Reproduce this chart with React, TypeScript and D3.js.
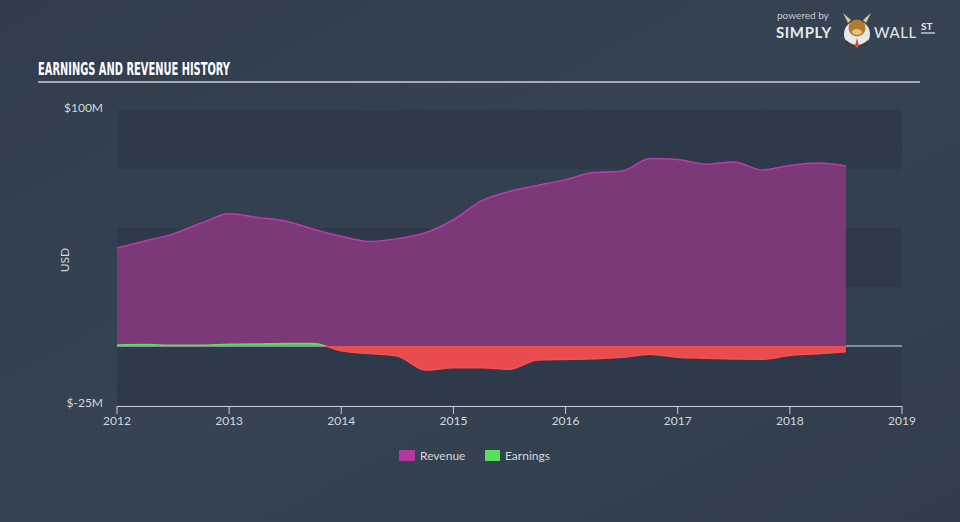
import React, { useEffect } from "react";
import * as d3 from "d3";

const periods = [
  2012.0, 2012.25, 2012.5, 2012.75, 2013.0, 2013.25, 2013.5, 2013.75, 2014.0,
  2014.25, 2014.5, 2014.75, 2015.0, 2015.25, 2015.5, 2015.75, 2016.0, 2016.25,
  2016.5, 2016.75, 2017.0, 2017.25, 2017.5, 2017.75, 2018.0, 2018.25, 2018.5,
];
const revenue = [
  41.5, 44.5, 47.5, 52, 56, 54.5, 53, 49.5, 46.5, 44.3, 45.5, 48, 53.5, 61.5,
  65.5, 68, 70.5, 73.5, 74, 79.5, 79, 77, 78, 74.6, 76.5, 77.5, 76.3,
];
const earnings = [
  0.4, 0.6, 0.3, 0.3, 0.7, 0.8, 1.1, 1.1, -2.0, -3.2, -4.2, -10.2, -9.2, -9.2,
  -9.9, -5.9, -5.7, -5.4, -4.8, -3.5, -4.8, -5.2, -5.5, -5.6, -4.0, -3.3, -2.4,
];
const xTicks = [2012, 2013, 2014, 2015, 2016, 2017, 2018, 2019];
const yTickLabels = ["$100M", "$-25M"];
const yTickValues = [100, -25];
const bandEdges = [100, 75, 50, 25, 0, -25];

const W = 960;
const H = 522;

export default function App() {
  useEffect(() => {
    document.body.style.margin = "0";
    document.body.style.background = "#334150";
  }, []);

  const x = d3.scaleLinear().domain([2012, 2019]).range([117, 902]);
  const y = d3.scaleLinear().domain([-25, 100]).range([405, 110]);

  const revData = periods.map((p, i) => ({ p, v: revenue[i] }));
  const earnData = periods.map((p, i) => ({ p, v: earnings[i] }));

  const area = d3
    .area<{ p: number; v: number }>()
    .x((d) => x(d.p))
    .y0(y(0))
    .y1((d) => y(d.v))
    .curve(d3.curveMonotoneX);
  const line = d3
    .line<{ p: number; v: number }>()
    .x((d) => x(d.p))
    .y((d) => y(d.v))
    .curve(d3.curveMonotoneX);

  const font = "Lato, 'Open Sans', sans-serif";

  return (
    <svg
      width={W}
      height={H}
      style={{ position: "absolute", left: 0, top: 0, display: "block" }}
    >
      <defs>
        <linearGradient id="bg" x1="0" y1="0" x2="1" y2="1">
          <stop offset="0" stopColor="#313d4c" />
          <stop offset="0.5" stopColor="#354352" />
          <stop offset="1" stopColor="#313d4c" />
        </linearGradient>
        <clipPath id="above">
          <rect x={0} y={0} width={W} height={y(0)} />
        </clipPath>
        <clipPath id="below">
          <rect x={0} y={y(0)} width={W} height={H - y(0)} />
        </clipPath>
      </defs>
      <rect x={0} y={0} width={W} height={H} fill="url(#bg)" />

      {/* bands */}
      {bandEdges.slice(0, -1).map((v, i) => (
        <rect
          key={v}
          x={x(2012)}
          y={y(v)}
          width={x(2019) - x(2012)}
          height={y(bandEdges[i + 1]) - y(v)}
          fill={i % 2 === 0 ? "#2e3a49" : "#334050"}
        />
      ))}

      {/* zero line */}
      <line
        x1={x(2012)}
        x2={x(2019)}
        y1={y(0)}
        y2={y(0)}
        stroke="#a2a8ae"
        strokeWidth={1.5}
      />

      {/* revenue */}
      <path d={area(revData) || ""} fill="#7b3a77" />
      <path
        d={line(revData) || ""}
        fill="none"
        stroke="#bd3aad"
        strokeWidth={1.5}
      />

      {/* earnings */}
      <g clipPath="url(#above)">
        <path d={area(earnData) || ""} fill="#4fd34f" />
        <path
          d={line(earnData) || ""}
          fill="none"
          stroke="#5be05a"
          strokeWidth={1.5}
        />
      </g>
      <g clipPath="url(#below)">
        <path d={area(earnData) || ""} fill="#e84c4f" />
        <path
          d={line(earnData) || ""}
          fill="none"
          stroke="#f2524f"
          strokeWidth={1.5}
        />
      </g>

      {/* x axis */}
      <line
        x1={x(2012)}
        x2={x(2019)}
        y1={406.5}
        y2={406.5}
        stroke="#c9ced4"
        strokeWidth={1}
      />
      {xTicks.map((t) => (
        <g key={t}>
          <line
            x1={x(t)}
            x2={x(t)}
            y1={406}
            y2={414}
            stroke="#c9ced4"
            strokeWidth={1}
          />
          <text
            x={x(t)}
            y={425}
            textAnchor="middle"
            fill="#d4d8dc"
            fontFamily={font}
            fontSize={12}
          >
            {t}
          </text>
        </g>
      ))}

      {/* y labels */}
      {yTickValues.map((v, i) => (
        <text
          key={v}
          x={103}
          y={y(v) + 2}
          textAnchor="end"
          fill="#d4d8dc"
          fontFamily={font}
          fontSize={12}
        >
          {yTickLabels[i]}
        </text>
      ))}
      <text
        transform="translate(69,260) rotate(-90)"
        textAnchor="middle"
        fill="#d4d8dc"
        fontFamily={font}
        fontSize={12}
      >
        USD
      </text>

      {/* title */}
      <text
        x={38}
        y={75}
        fill="#ffffff"
        fontFamily="'Liberation Sans Narrow', 'DejaVu Sans Condensed', sans-serif"
        fontWeight="bold"
        fontSize={17}
        textLength={192}
        lengthAdjust="spacingAndGlyphs"
      >
        EARNINGS AND REVENUE HISTORY
      </text>
      <line x1={38} x2={920} y1={82} y2={82} stroke="#a4abb3" strokeWidth={2} />

      {/* legend */}
      <rect x={399} y={450} width={16} height={11} fill="#b0399f" />
      <text x={420} y={460} fill="#d4d8dc" fontFamily={font} fontSize={12}>
        Revenue
      </text>
      <rect x={485} y={450} width={15} height={11} fill="#58e05a" />
      <text x={505} y={460} fill="#d4d8dc" fontFamily={font} fontSize={12}>
        Earnings
      </text>

      {/* logo */}
      <text x={777} y={19} fill="#c4c9ce" fontFamily={font} fontSize={10}>
        powered by
      </text>
      <text
        x={776}
        y={38}
        fill="#e8eaec"
        fontFamily={font}
        fontWeight="bold"
        fontSize={15}
        letterSpacing={0.6}
      >
        SIMPLY
      </text>
      <circle cx={857} cy={34} r={13} fill="#e5e7e9" />
      <path d="M846,40 Q857,50 868,40 L868,47 L846,47 Z" fill="#3c3c3c" />
      <circle cx={857} cy={28} r={8.5} fill="#b07a32" />
      <ellipse cx={857} cy={32} rx={5} ry={3} fill="#e3c27e" />
      <path d="M848,23 L843,13 L851,20 Z M866,23 L871,13 L863,20 Z" fill="#d8c79a" />
      <path d="M857,38 L855,46 L857,48 L859,46 Z" fill="#d9482f" />
      <text
        x={874}
        y={38}
        fill="#e8eaec"
        fontFamily={font}
        fontSize={15}
        letterSpacing={0.6}
      >
        WALL
      </text>
      <text
        x={921}
        y={30}
        fill="#e8eaec"
        fontFamily={font}
        fontWeight="bold"
        fontSize={10}
      >
        ST
      </text>
      <line x1={921} x2={935} y1={33} y2={33} stroke="#e8eaec" strokeWidth={1.2} />
    </svg>
  );
}
